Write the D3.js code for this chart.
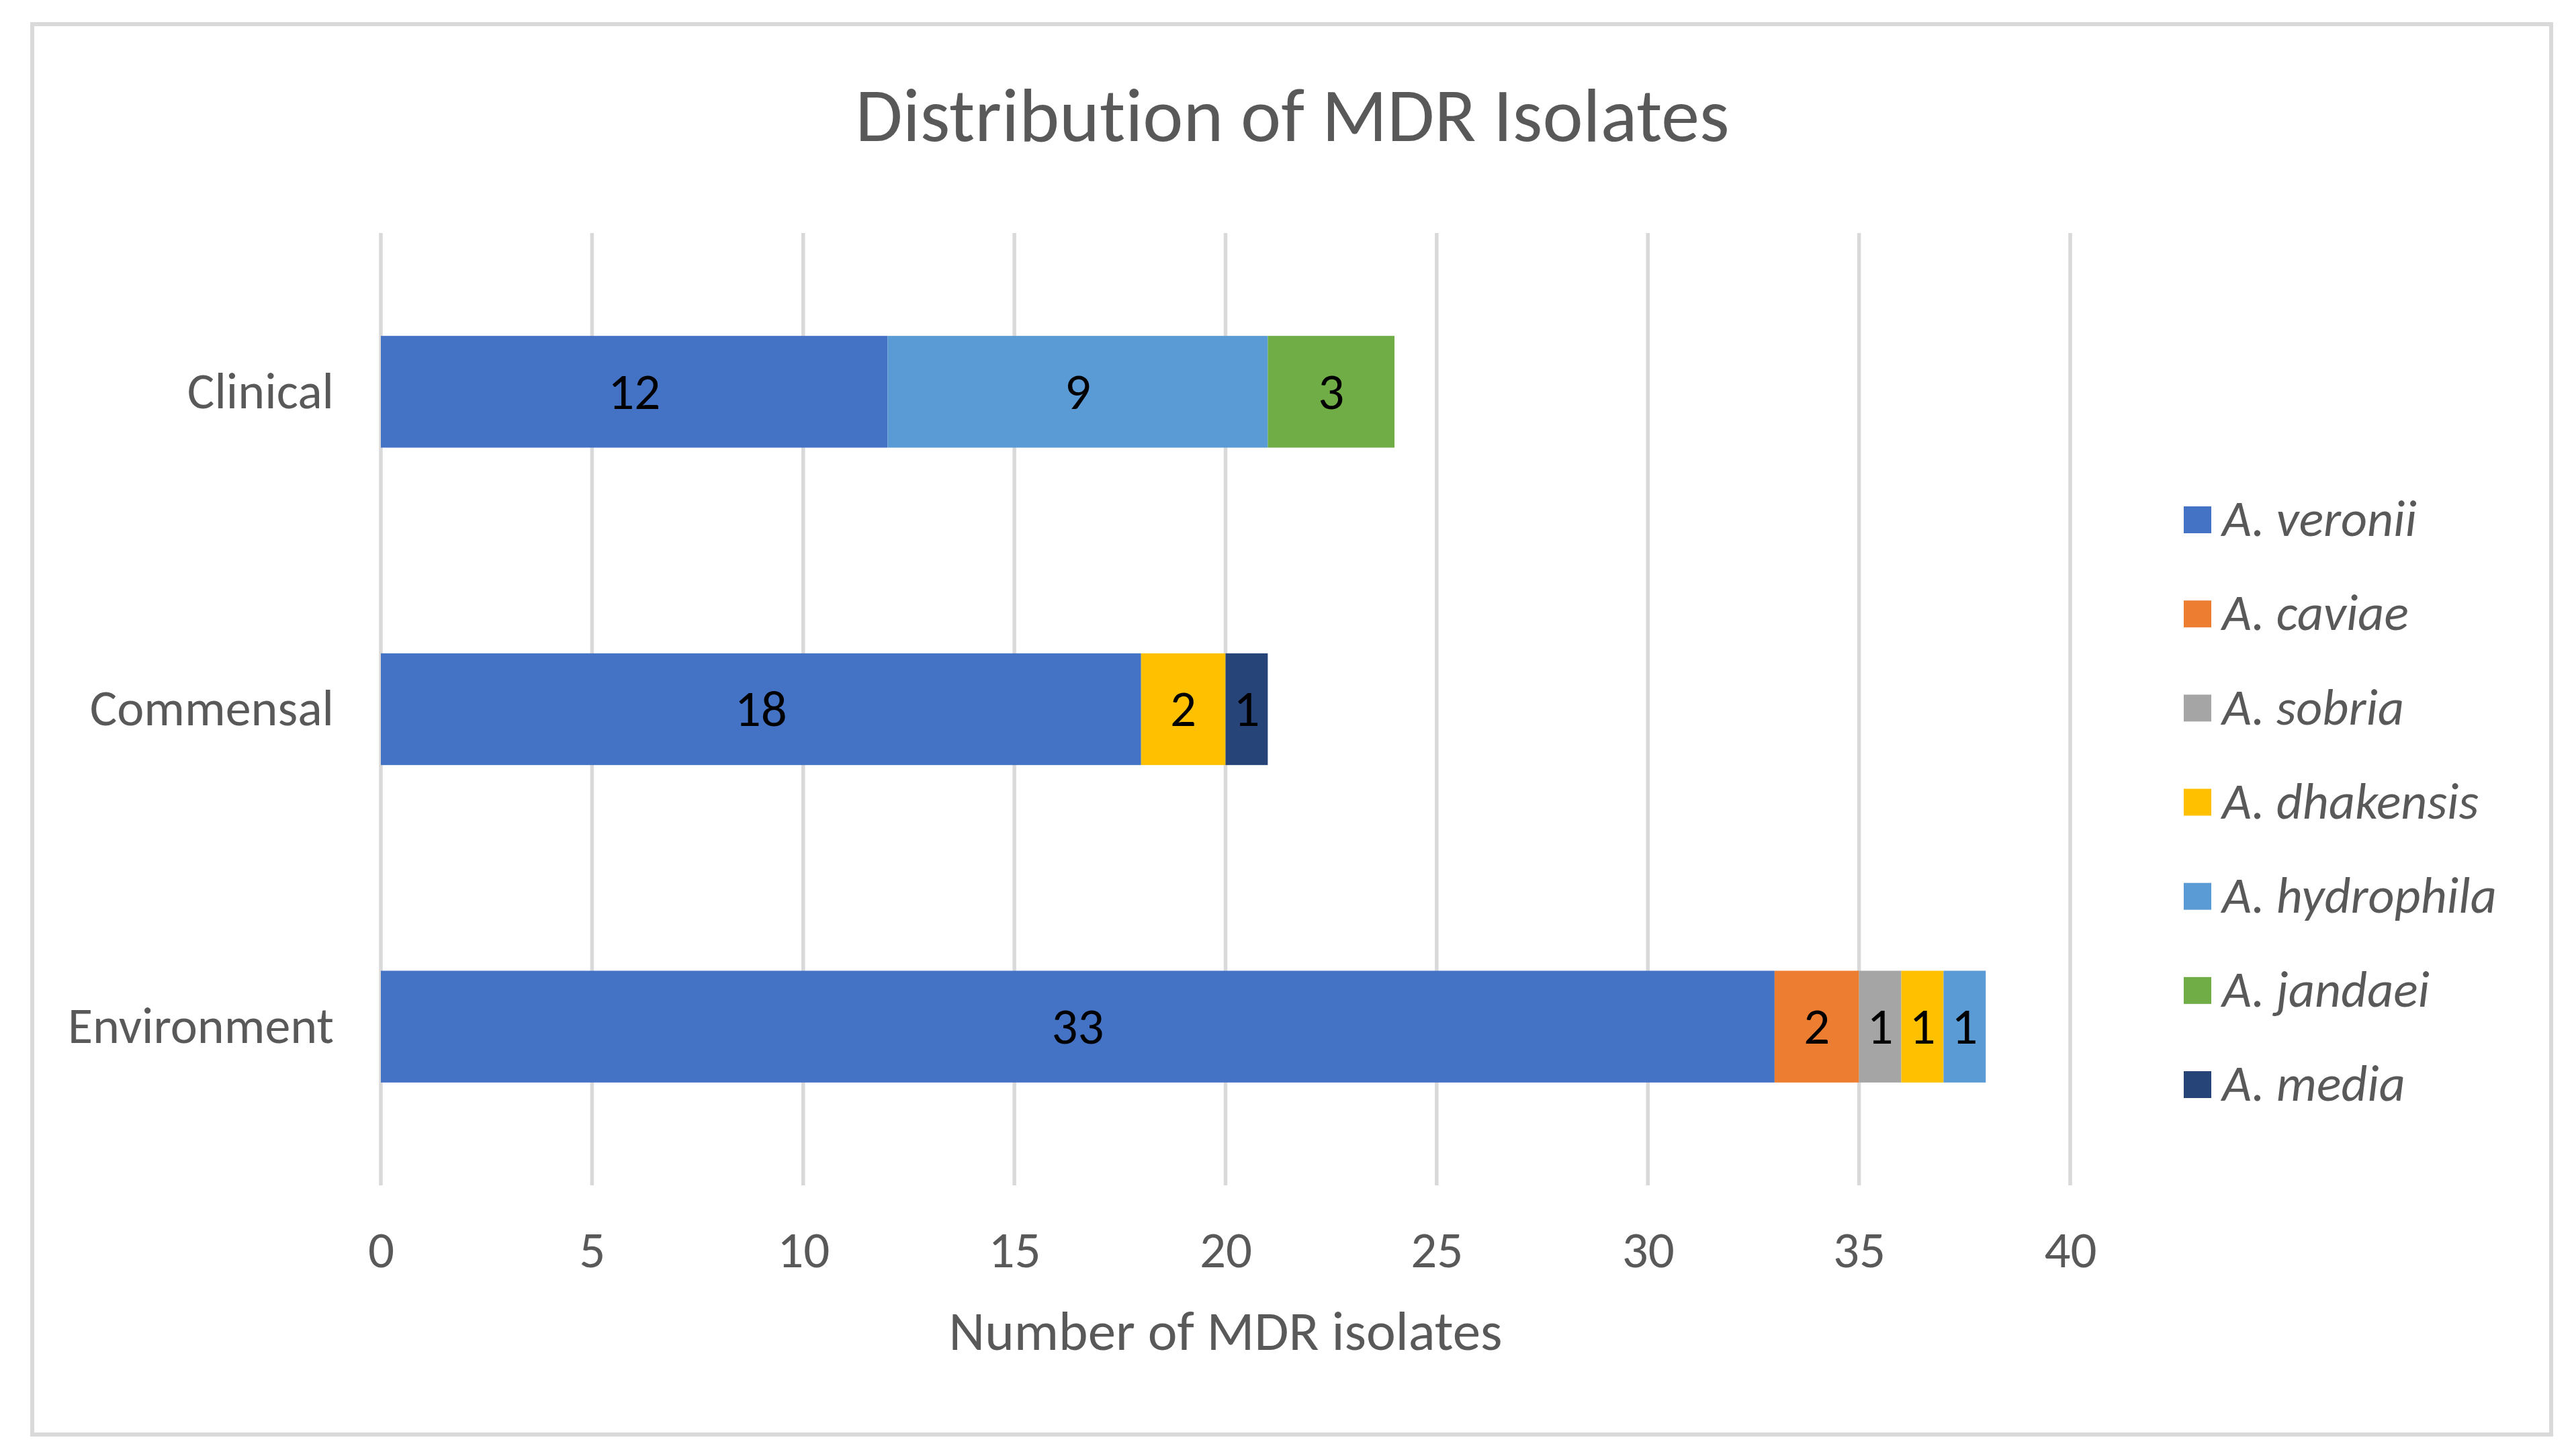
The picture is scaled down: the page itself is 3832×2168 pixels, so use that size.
<!DOCTYPE html>
<html>
<head>
<meta charset="utf-8">
<script src="https://cdn.jsdelivr.net/npm/d3@7"></script>
<style>
  html, body { margin: 0; padding: 0; background: #ffffff; }
  svg { display: block; }
  text { font-family: Carlito, Calibri, Lato, "Noto Sans", sans-serif; font-variant-ligatures: none; font-feature-settings: "liga" 0, "clig" 0; }
</style>
</head>
<body>
<svg id="chart" width="3832" height="2168"></svg>
<script>
// ---- data ----
const categories = ["Clinical", "Commensal", "Environment"];
const species = ["A. veronii", "A. caviae", "A. sobria", "A. dhakensis", "A. hydrophila", "A. jandaei", "A. media"];
const speciesColors = ["#4472C4", "#ED7D31", "#A5A5A5", "#FFC000", "#5B9BD5", "#70AD47", "#264478"];
const veronii    = [12, 18, 33];
const caviae     = [0, 0, 2];
const sobria     = [0, 0, 1];
const dhakensis  = [0, 2, 1];
const hydrophila = [9, 0, 1];
const jandaei    = [3, 0, 0];
const media      = [0, 1, 0];
const xTicks = [0, 5, 10, 15, 20, 25, 30, 35, 40];
const titleText = "Distribution of MDR Isolates";
const xAxisTitle = "Number of MDR isolates";

const seriesValues = [veronii, caviae, sobria, dhakensis, hydrophila, jandaei, media];
const rows = categories.map((c, i) => {
  const r = { category: c };
  species.forEach((s, j) => { r[s] = seriesValues[j][i]; });
  return r;
});

// ---- layout ----
const svg = d3.select("#chart");
const textColor = "#595959";
const gridColor = "#D9D9D9";
const fontStack = "Carlito, Calibri, Lato, 'Noto Sans', sans-serif";

// chart border
svg.append("rect")
  .attr("x", 48).attr("y", 36)
  .attr("width", 3750).attr("height", 2100)
  .attr("fill", "#ffffff")
  .attr("stroke", gridColor)
  .attr("stroke-width", 6);

const plot = { left: 567, right: 3082, top: 347, bottom: 1765 };

const x = d3.scaleLinear().domain([0, 40]).range([plot.left, plot.right]);
const y = d3.scaleBand().domain(categories).range([plot.top, plot.bottom]).paddingInner(0.648).paddingOuter(0.324);
const color = d3.scaleOrdinal().domain(species).range(speciesColors);

// gridlines
svg.append("g")
  .selectAll("line")
  .data(xTicks)
  .join("line")
  .attr("x1", d => x(d)).attr("x2", d => x(d))
  .attr("y1", plot.top).attr("y2", plot.bottom)
  .attr("stroke", gridColor)
  .attr("stroke-width", 5.5);

// x tick labels via axis
const xAxis = d3.axisBottom(x).tickValues(xTicks).tickSize(0).tickPadding(0).tickFormat(d3.format("d"));
const gx = svg.append("g").attr("transform", `translate(0, 1887)`).call(xAxis);
gx.select(".domain").remove();
gx.selectAll("text")
  .attr("dy", 0)
  .attr("y", 0)
  .attr("fill", textColor)
  .style("font-size", "77px")
  .style("font-family", fontStack);

// y category labels via axis
const yAxis = d3.axisLeft(y).tickSize(0).tickPadding(0);
const gy = svg.append("g").attr("transform", `translate(497, 0)`).call(yAxis);
gy.select(".domain").remove();
gy.selectAll("text")
  .attr("x", 0)
  .attr("dy", "0.32em")
  .attr("fill", textColor)
  .style("font-size", "76px")
  .style("font-family", fontStack);

// stacked bars
const stack = d3.stack().keys(species);
const stacked = stack(rows);

const layers = svg.append("g")
  .selectAll("g")
  .data(stacked)
  .join("g")
  .attr("fill", d => color(d.key));

layers.selectAll("rect")
  .data(d => d.filter(s => s[1] - s[0] > 0).map(s => ({ s, key: d.key })))
  .join("rect")
  .attr("x", d => x(d.s[0]))
  .attr("width", d => x(d.s[1]) - x(d.s[0]))
  .attr("y", d => y(d.s.data.category))
  .attr("height", y.bandwidth());

// data labels
const labels = svg.append("g");
stacked.forEach(layer => {
  layer.forEach(s => {
    const v = s[1] - s[0];
    if (v > 0) {
      labels.append("text")
        .attr("x", x((s[0] + s[1]) / 2))
        .attr("y", y(s.data.category) + y.bandwidth() / 2)
        .attr("dy", "0.33em")
        .attr("text-anchor", "middle")
        .attr("fill", "#000000")
        .style("font-size", "77px")
        .text(v);
    }
  });
});

// title
svg.append("text")
  .attr("x", 1924)
  .attr("y", 210)
  .attr("text-anchor", "middle")
  .attr("fill", textColor)
  .style("font-size", "114px")
  .text(titleText);

// x axis title
svg.append("text")
  .attr("x", (plot.left + plot.right) / 2)
  .attr("y", 2010)
  .attr("text-anchor", "middle")
  .attr("fill", textColor)
  .style("font-size", "83px")
  .text(xAxisTitle);

// legend
const legendY = d3.scalePoint().domain(species).range([774, 1615]);
const legend = svg.append("g")
  .selectAll("g")
  .data(species)
  .join("g")
  .attr("transform", d => `translate(3251, ${legendY(d)})`);

legend.append("rect")
  .attr("x", 0).attr("y", -20)
  .attr("width", 41).attr("height", 40)
  .attr("fill", d => color(d));

legend.append("text")
  .attr("x", 57)
  .attr("y", 0)
  .attr("dy", "0.32em")
  .attr("fill", textColor)
  .style("font-size", "76px")
  .style("font-style", "italic")
  .text(d => d);
</script>
</body>
</html>
